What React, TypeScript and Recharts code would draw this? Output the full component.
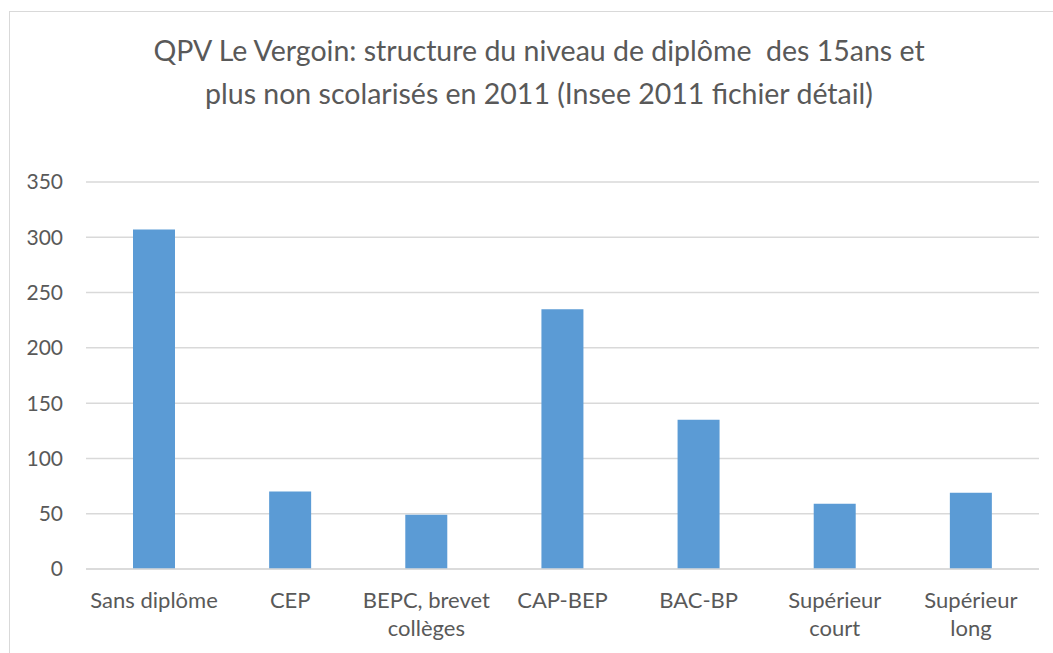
import { BarChart, Bar, XAxis, YAxis, CartesianGrid } from 'recharts'

const categories = ['Sans diplôme', 'CEP', 'BEPC, brevet\ncollèges', 'CAP-BEP', 'BAC-BP', 'Supérieur\ncourt', 'Supérieur\nlong']
const effectifs = [307, 70, 49, 235, 135, 59, 69]
const yTicks = [0, 50, 100, 150, 200, 250, 300, 350]
const titleLines = ['QPV Le Vergoin: structure du niveau de diplôme  des 15ans et', 'plus non scolarisés en 2011 (Insee 2011 fichier détail)']

const FONT = 'Lato, "Open Sans", sans-serif'
const TEXT = '#595959'
const GRID = '#d9d9d9'

const data = categories.map((c, i) => ({ cat: c, value: effectifs[i] }))

const CatTick = ({ x, y, payload }: any) => {
  const lines = String(payload.value).split('\n')
  return (
    <text x={x} y={y} textAnchor="middle" fill={TEXT} fontSize={22} fontFamily={FONT}>
      {lines.map((l, i) => (
        <tspan key={i} x={x} dy={i === 0 ? 39 : 28}>{l}</tspan>
      ))}
    </text>
  )
}

export default function App() {
  return (
    <div style={{
      position: 'fixed', left: 9, top: 11, width: 1044, height: 642, boxSizing: 'border-box',
      borderLeft: `1px solid ${GRID}`, borderTop: `1px solid ${GRID}`, background: '#fff', overflow: 'hidden'
    }}>
      <div style={{
        position: 'absolute', left: 0, width: 1058, top: 17, textAlign: 'center',
        fontFamily: FONT, fontSize: 28.5, lineHeight: '43px', color: TEXT, whiteSpace: 'pre'
      }}>
        {titleLines.map((t, i) => <div key={i}>{t}</div>)}
      </div>
      <BarChart width={1043} height={641} data={data} margin={{ top: 170, right: 14, bottom: 24, left: 16 }}>
        <CartesianGrid vertical={false} stroke={GRID} strokeWidth={1.5} />
        <XAxis dataKey="cat" interval={0} height={60} tickLine={false} tickSize={0} tickMargin={0}
          axisLine={{ stroke: GRID, strokeWidth: 1.5 }} tick={<CatTick />} />
        <YAxis domain={[0, 350]} ticks={yTicks} width={60} axisLine={false} tickLine={false} tickSize={0} tickMargin={23}
          tick={{ fill: TEXT, fontSize: 21, fontFamily: FONT }} />
        <Bar dataKey="value" fill="#5b9bd5" barSize={42} isAnimationActive={false} />
      </BarChart>
    </div>
  )
}
